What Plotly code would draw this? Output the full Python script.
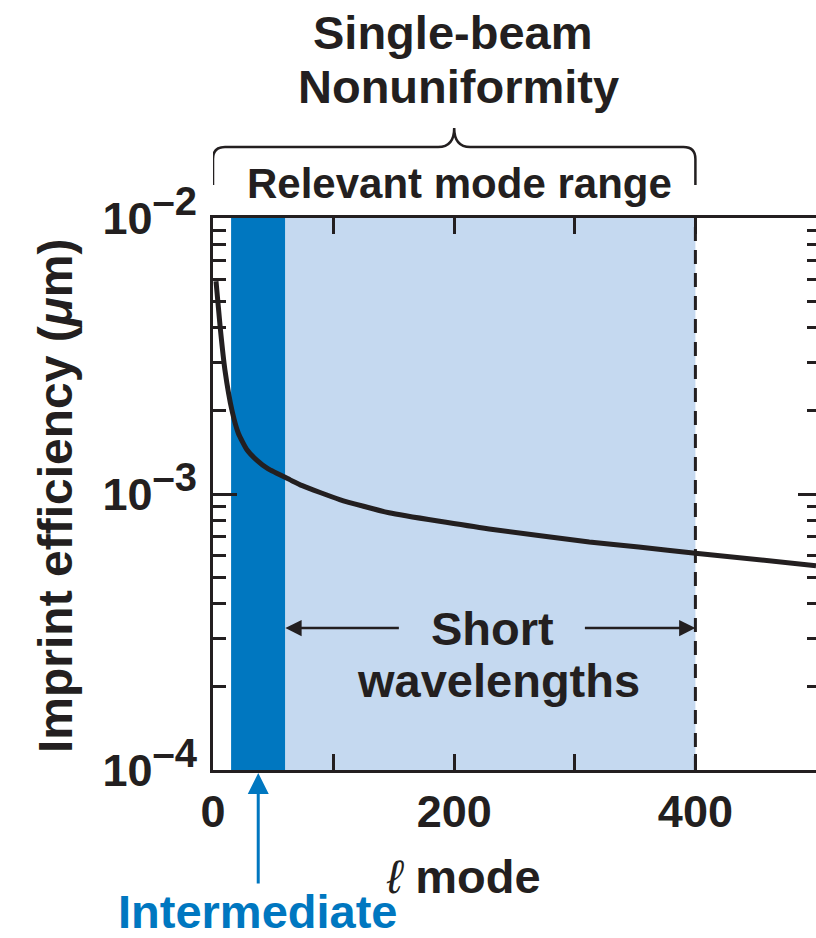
import plotly.graph_objects as go

# ---- data ----
mode_l = [2.5, 6, 9.9, 15.7, 21, 28, 36, 45.5, 64, 74, 105, 146, 229, 312, 353, 400, 500]
imprint_eff = [5.9e-3, 4.0e-3, 2.81e-3, 2.01e-3, 1.66e-3, 1.45e-3, 1.33e-3, 1.235e-3,
               1.125e-3, 1.072e-3, 9.55e-4, 8.55e-4, 7.47e-4, 6.7e-4, 6.43e-4, 6.1e-4, 5.5e-4]
intermediate_band = [15, 60]
short_band = [60, 400]
x_tickvals = [0, 100, 200, 300, 400, 500]
x_ticktext = ["0", "", "200", "", "400", ""]
y_tickvals = [1e-4, 1e-3, 1e-2]
y_ticktext = ["10<sup><span style='font-size:40px'>\u20134</span></sup>",
              "10<sup><span style='font-size:40px'>\u20133</span></sup>",
              "10<sup><span style='font-size:40px'>\u20132</span></sup>"]

# ---- styling ----
W, H = 816, 938
L, R, T, B = 213, 0, 218, 168
PW, PH = W - L - R, H - T - B
INK = "#231F20"
DARK_BLUE = "#0077C0"
LIGHT_BLUE = "#C5D9F0"
FONT = "Liberation Sans"


def px_x(px):
    return (px - L) / PW


def px_y(py):
    return (H - B - py) / PH


fig = go.Figure()
fig.add_trace(go.Scatter(x=mode_l, y=imprint_eff, mode="lines",
                         line=dict(color=INK, width=5, shape="spline", smoothing=0.5),
                         showlegend=False, hoverinfo="skip"))
# dummy trace for right-side tick axis
fig.add_trace(go.Scatter(x=[None], y=[None], yaxis="y2", showlegend=False, hoverinfo="skip"))

shapes = [
    dict(type="rect", xref="x", yref="paper", x0=intermediate_band[0], x1=intermediate_band[1],
         y0=0, y1=1, fillcolor=DARK_BLUE, line=dict(width=0), layer="below"),
    dict(type="rect", xref="x", yref="paper", x0=short_band[0], x1=short_band[1],
         y0=0, y1=1, fillcolor=LIGHT_BLUE, line=dict(width=0), layer="below"),
    dict(type="line", xref="x", yref="paper", x0=short_band[1], x1=short_band[1], y0=0, y1=1,
         line=dict(color=INK, width=3, dash="14px,9px")),
]

# curly brace above the plot spanning 0..400
x0b, x1b = 0, short_band[1]
xm = (x0b + x1b) / 2
yb_end = px_y(185)
yb_h = px_y(147)
yb_tip = px_y(128)
rx = 12 / PW * 500
ry = 12 / PH
tx = 16 / PW * 500
brace = (f"M {x0b},{yb_end} L {x0b},{yb_h - ry} Q {x0b},{yb_h} {x0b + rx},{yb_h} "
         f"L {xm - tx},{yb_h} Q {xm},{yb_h} {xm},{yb_tip} "
         f"Q {xm},{yb_h} {xm + tx},{yb_h} L {x1b - rx},{yb_h} "
         f"Q {x1b},{yb_h} {x1b},{yb_h - ry} L {x1b},{yb_end}")
shapes.append(dict(type="path", xref="x", yref="paper", path=brace,
                   line=dict(color=INK, width=2.5)))


def txt(text, cx, cy, size=47, color=INK, bold=True, angle=0):
    return dict(text=text, xref="paper", yref="paper", x=px_x(cx), y=px_y(cy),
                xanchor="center", yanchor="middle", showarrow=False, textangle=angle,
                font=dict(family=FONT, size=size, color=color,
                          weight="bold" if bold else "normal"))


annotations = [
    txt("Single-beam", 452, 33),
    txt("Nonuniformity", 458, 86),
    txt("Relevant mode range", 459, 184, size=42),
    txt("Short", 492, 628),
    txt("wavelengths", 498, 680),
    txt("<i>\u2113</i> <b>mode</b>", 463, 876, bold=False),
    txt("Intermediate", 257, 911, color=DARK_BLUE),
    txt("Imprint efficiency (<i>\u03bc</i>m)", 55, 496, size=48, angle=-90),
]

# arrows for "Short wavelengths"
arr_y = px_y(628)
annotations.append(dict(x=short_band[0], y=arr_y, xref="x", yref="paper", ax=115, ay=0,
                        showarrow=True, arrowhead=2, arrowsize=1.3, arrowwidth=2.5,
                        arrowcolor=INK, text="", standoff=0))
annotations.append(dict(x=short_band[1], y=arr_y, xref="x", yref="paper", ax=-112, ay=0,
                        showarrow=True, arrowhead=2, arrowsize=1.3, arrowwidth=2.5,
                        arrowcolor=INK, text="", standoff=0))
# blue arrow for "Intermediate"
annotations.append(dict(x=(intermediate_band[0] + intermediate_band[1]) / 2, y=px_y(773),
                        xref="x", yref="paper", ax=0, ay=112, showarrow=True, arrowhead=2,
                        arrowsize=1.4, arrowwidth=3, arrowcolor=DARK_BLUE, text="", standoff=0))

fig.update_layout(
    width=W, height=H, margin=dict(l=L, r=R, t=T, b=B, pad=0),
    paper_bgcolor="white", plot_bgcolor="rgba(0,0,0,0)",
    shapes=shapes, annotations=annotations,
    xaxis=dict(range=[0, 500], tickvals=x_tickvals, ticktext=x_ticktext,
               ticks="inside", ticklen=16, tickwidth=3, tickcolor=INK,
               showline=True, linewidth=3, linecolor=INK, mirror="ticks",
               showgrid=False, zeroline=False, ticklabelstandoff=0,
               tickfont=dict(family=FONT, size=45, color=INK, weight="bold")),
    yaxis=dict(type="log", range=[-4, -2], tickvals=y_tickvals, ticktext=y_ticktext,
               ticks="inside", ticklen=24, tickwidth=3, tickcolor=INK,
               showline=True, linewidth=3, linecolor=INK, mirror=False,
               showgrid=False, zeroline=False, ticklabelstandoff=4,
               minor=dict(ticks="inside", ticklen=13, tickwidth=2.5, tickcolor=INK,
                          dtick="D1", showgrid=False),
               tickfont=dict(family=FONT, size=45, color=INK, weight="bold")),
    yaxis2=dict(type="log", range=[-4, -2], overlaying="y", side="right",
                tickvals=y_tickvals, ticks="inside", ticklen=18, tickwidth=3, tickcolor=INK,
                showline=False, showgrid=False, zeroline=False, showticklabels=False,
                minor=dict(ticks="inside", ticklen=9, tickwidth=2.5, tickcolor=INK,
                           dtick="D1", showgrid=False)),
)

fig.write_html("out.html")
